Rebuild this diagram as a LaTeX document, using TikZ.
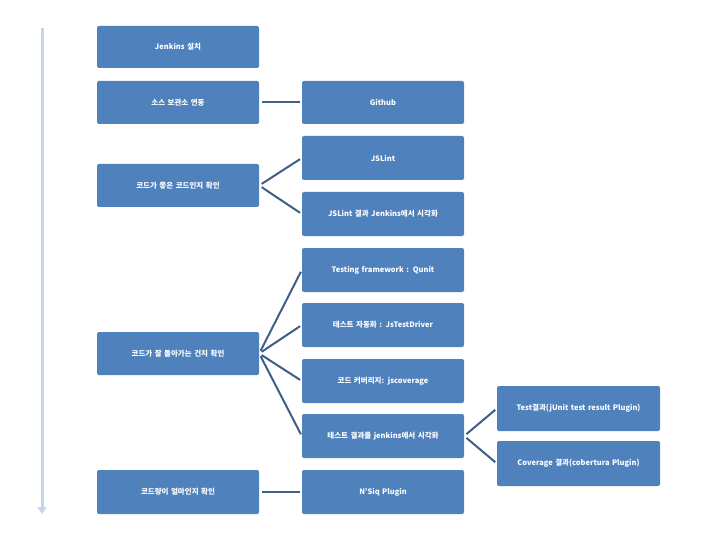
\documentclass[tikz,border=0pt]{standalone}
\usepackage{fontspec}
\usetikzlibrary{arrows.meta}
\setmainfont{Noto Sans CJK KR}
\definecolor{boxblue}{HTML}{4F81BD}
\definecolor{linkblue}{HTML}{3E5F8A}
\definecolor{arrowblue}{HTML}{C6D6EA}
\begin{document}
\begin{tikzpicture}[x=1pt,y=-1pt,
  bx/.style={draw=none,fill=boxblue,rounded corners=2pt,text=white,font=\bfseries\fontsize{7.5}{8.5}\selectfont,align=center,inner sep=1pt},
  lnk/.style={draw=linkblue,line width=2pt,shorten <=3pt,shorten >=2pt}]
\useasboundingbox (0,0) rectangle (720,540);
\def\B#1#2#3#4#5#6{\node[bx,minimum width=#3pt,minimum height=#4pt,text width=#5pt] (#1) at (#2) {#6};}
% left
\B{l1}{178,47}{162}{42}{150}{Jenkins 설치}
\B{l2}{178,102.5}{162}{43}{150}{소스 보관소 연동}
\B{l3}{178,185.5}{162}{43}{150}{코드가 좋은 코드인지 확인}
\B{l4}{178,353.5}{162}{43}{150}{코드가 잘 돌아가는 건지 확인}
\B{l5}{178,492}{162}{44}{150}{코드량이 얼마인지 확인}
% middle
\B{m1}{383,102.5}{162}{43}{150}{Github}
\B{m2}{383,158}{162}{44}{150}{JSLint}
\B{m3}{383,214}{162}{44}{160}{JSLint 결과 Jenkins에서 시각화}
\B{m4}{383,270}{162}{44}{150}{Testing framework : Qunit}
\B{m5}{383,325}{162}{44}{150}{테스트 자동화 : JsTestDriver}
\B{m6}{383,381}{162}{44}{150}{코드 커버리지: jscoverage}
\B{m7}{383,436}{162}{44}{150}{테스트 결과를 jenkins에서 시각화}
\B{m8}{383,492}{162}{44}{150}{N'Siq Plugin}
% right
\B{r1}{578.5,408.5}{163}{45}{140}{Test결과(jUnit test result Plugin)}
\B{r2}{578.5,463.5}{163}{45}{140}{Coverage 결과(cobertura Plugin)}
% connectors
\foreach \a/\b in {l2/m1,l3/m2,l3/m3,l4/m4,l4/m5,l4/m6,l4/m7,l5/m8,m7/r1,m7/r2}
  \draw[lnk] (\a.east) -- (\b.west);
% timeline arrow
\coordinate (t0) at (42,28);
\coordinate (t1) at (42,514);
\draw[arrowblue,line width=3pt,-{Triangle[length=7pt,width=9pt]}] (t0) -- (t1);
\end{tikzpicture}
\end{document}
